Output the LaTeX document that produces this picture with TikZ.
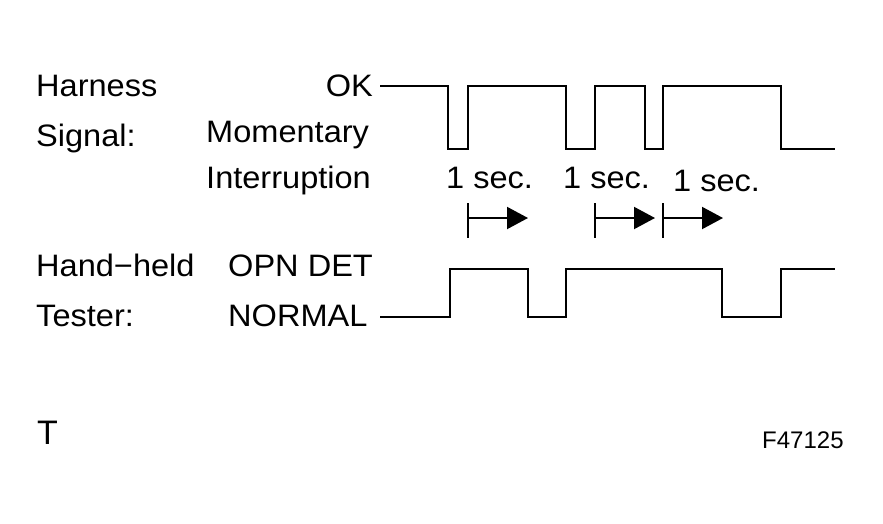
\documentclass[tikz,border=0pt]{standalone}
\usepackage{fontspec}
\setmainfont[FakeStretch=1.05]{Liberation Sans}
\newfontfamily\plainfont{Liberation Sans}
\usetikzlibrary{arrows.meta}
\begin{document}
\begin{tikzpicture}[x=1pt,y=-1pt,
  lbl/.style={inner sep=0pt,font=\fontsize{31}{31}\selectfont},
  wave/.style={line width=2.6pt,line join=miter,line cap=butt},
  tick/.style={line width=2pt},
  secarrow/.style={line width=2pt,-{Triangle[length=21pt,width=22pt]}}]
\useasboundingbox (0,0) rectangle (883,523);
% labels
\node[lbl,anchor=base west] (harness) at (36,96) {Harness};
\node[lbl,anchor=base west] (signal) at (36,146) {Signal:};
\node[lbl,anchor=base east] (ok) at (373,96) {OK};
\node[lbl,anchor=base west] (mom) at (206,142) {Momentary};
\node[lbl,anchor=base west] (intr) at (206,188) {Interruption};
\node[lbl,anchor=base west] (s1) at (446,188) {1 sec.};
\node[lbl,anchor=base west] (s2) at (563,188) {1 sec.};
\node[lbl,anchor=base west] (s3) at (673,191) {1 sec.};
\node[lbl,anchor=base west] (hand) at (36,276) {Hand−held};
\node[lbl,anchor=base west] (tester) at (36,326) {Tester:};
\node[lbl,anchor=base west] (opn) at (228,276) {OPN DET};
\node[lbl,anchor=base west] (normal) at (228,326) {NORMAL};
\node[inner sep=0pt,anchor=base west,font=\plainfont\fontsize{34}{34}\selectfont] (t) at (37,444) {T};
\node[inner sep=0pt,anchor=base west,font=\plainfont\fontsize{24}{24}\selectfont] (fig) at (762,448) {F47125};
% harness signal waveform
\draw[wave] (380,86) -- (448,86) -- (448,149) -- (468,149) -- (468,86)
  -- (566,86) -- (566,149) -- (595,149) -- (595,86)
  -- (645,86) -- (645,149) -- (663,149) -- (663,86)
  -- (781,86) -- (781,149) -- (835,149);
% tester waveform
\draw[wave] (380,317) -- (450,317) -- (450,269) -- (528,269) -- (528,317)
  -- (566,317) -- (566,269) -- (722,269) -- (722,317)
  -- (781,317) -- (781,269) -- (835,269);
% 1 sec arrows
\coordinate (a1t) at (468,203); \coordinate (a1b) at (468,238);
\coordinate (a1s) at (468,218); \coordinate (a1e) at (528,218);
\coordinate (a2t) at (595,203); \coordinate (a2b) at (595,238);
\coordinate (a2s) at (595,218); \coordinate (a2e) at (655,218);
\coordinate (a3t) at (663,203); \coordinate (a3b) at (663,238);
\coordinate (a3s) at (663,218); \coordinate (a3e) at (723,218);
\draw[tick] (a1t) -- (a1b);
\draw[tick] (a2t) -- (a2b);
\draw[tick] (a3t) -- (a3b);
\draw[secarrow] (a1s) -- (a1e);
\draw[secarrow] (a2s) -- (a2e);
\draw[secarrow] (a3s) -- (a3e);
\end{tikzpicture}
\end{document}
